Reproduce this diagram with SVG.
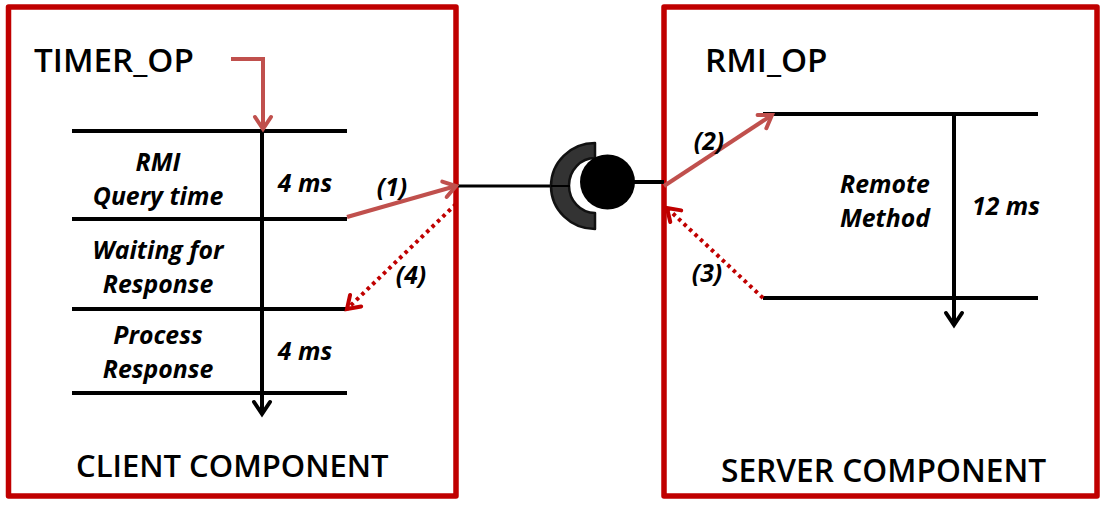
<svg xmlns="http://www.w3.org/2000/svg" width="1105" height="512" viewBox="0 0 1105 512">
<style>
.box{fill:#fff;stroke:#c00000;stroke-width:5.5;stroke-linejoin:round}
.k{stroke:#000;stroke-width:4;fill:none}
.r{stroke:#c0504d;stroke-width:4;fill:none}
.d{stroke:#c00000;stroke-width:4;fill:none;stroke-dasharray:3.5 4}
text{font-family:"Open Sans","Noto Sans",sans-serif;fill:#000}
.t{font-size:33.2px;font-weight:600}
.c{font-size:31px;font-weight:600}
.i{font-size:24.8px;font-style:italic;font-weight:700;text-anchor:middle}
</style>
<defs>
<marker id="ak" markerUnits="userSpaceOnUse" markerWidth="24" markerHeight="24" refX="17" refY="12" orient="auto"><path d="M5 4L17 12L5 20" fill="none" stroke="#000" stroke-width="4" stroke-linecap="round"/></marker>
<marker id="ar" markerUnits="userSpaceOnUse" markerWidth="24" markerHeight="24" refX="17" refY="12" orient="auto"><path d="M5 4L17 12L5 20" fill="none" stroke="#c0504d" stroke-width="4" stroke-linecap="round"/></marker>
<marker id="ad" markerUnits="userSpaceOnUse" markerWidth="24" markerHeight="24" refX="17" refY="12" orient="auto"><path d="M5 4L17 12L5 20" fill="none" stroke="#c00000" stroke-width="4" stroke-linecap="round"/></marker>
</defs>
<rect width="1105" height="512" fill="#fff"/>
<g id="client"><rect class="box" x="8.500" y="7" width="447.500" height="489"/>
<text class="t" x="34" y="72">TIMER_OP</text>
<text class="c" x="76" y="477">CLIENT COMPONENT</text></g>
<g id="server"><rect class="box" x="664" y="7" width="433" height="489"/>
<text class="t" x="705" y="72">RMI_OP</text>
<text class="c" x="721" y="482" style="font-size:31.700px">SERVER COMPONENT</text></g>
<g id="socket"><path d="M458 186H570" stroke="#000" stroke-width="3" fill="none"/><path d="M630 182H664" class="k"/><path d="M595 143A44 43 0 0 0 595 229V213A26 27.500 0 0 1 595 158Z" fill="#333" stroke="#111" stroke-width="2.500" stroke-linejoin="round"/><path d="M551 186H570" stroke="#000" stroke-width="2"/><circle cx="607.500" cy="182" r="27.500" fill="#000"/></g>
<g id="client-timeline" class="k"><path d="M72 131H347M72 219H347M72 309H347M72 393H347"/><path d="M262 131V414" marker-end="url(#ak)"/></g>
<g id="server-timeline" class="k"><path d="M763 114H1038M763 298H1038"/><path d="M954 114V325" marker-end="url(#ak)"/></g>
<g id="connectors">
<path class="r" d="M231 59H263V129" marker-end="url(#ar)"/>
<path class="r" d="M347 217L456 186" marker-end="url(#ar)"/>
<path class="r" d="M664 186L772 115" marker-end="url(#ar)"/>
<path class="d" d="M763 298L667 208" marker-end="url(#ad)"/>
<path class="d" d="M456 204L347 309" marker-end="url(#ad)"/>
</g>
<g id="labels">
<text class="i" x="158" y="171">RMI</text><text class="i" x="158" y="205">Query time</text>
<text class="i" x="158" y="259">Waiting for</text><text class="i" x="158" y="293">Response</text>
<text class="i" x="158" y="344">Process</text><text class="i" x="158" y="378">Response</text>
<text class="i" x="305" y="192">4 ms</text><text class="i" x="305" y="360">4 ms</text>
<text class="i" x="392" y="196">(1)</text><text class="i" x="709" y="150">(2)</text><text class="i" x="707" y="282">(3)</text><text class="i" x="411" y="284">(4)</text>
<text class="i" x="885" y="193">Remote</text><text class="i" x="885" y="227">Method</text><text class="i" x="1006" y="215">12 ms</text>
</g>
</svg>
